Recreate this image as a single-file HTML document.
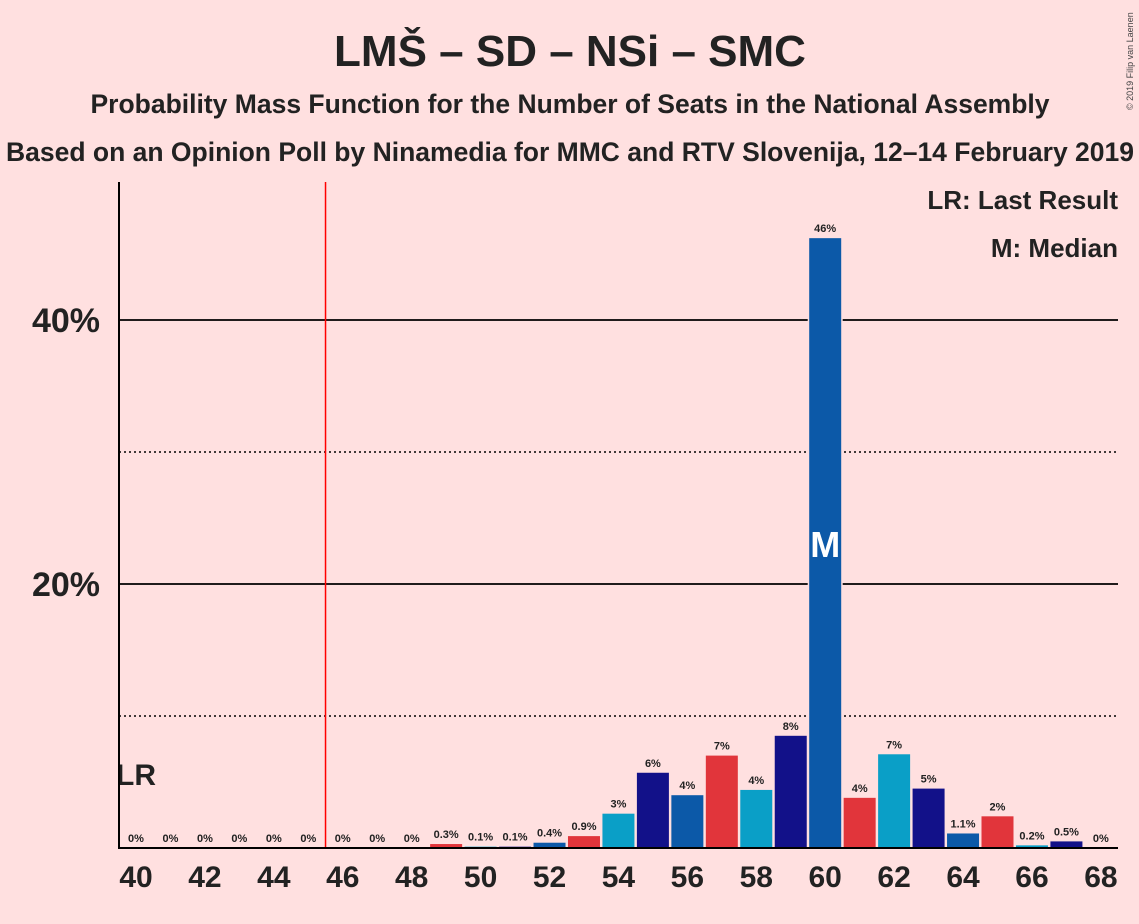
<!DOCTYPE html>
<html><head><meta charset="utf-8"><style>
body{margin:0;background:#ffe0e0;}
svg{display:block;font-family:"Liberation Sans",sans-serif;}
</style></head><body>
<svg id="chart" width="1139" height="924">
<rect width="1139" height="924" fill="#ffe0e0"/>
<text x="570" y="66" text-anchor="middle" font-size="44" font-weight="bold" fill="#222">LMŠ – SD – NSi – SMC</text>
<text x="570" y="113" text-anchor="middle" font-size="26.5" font-weight="bold" fill="#222">Probability Mass Function for the Number of Seats in the National Assembly</text>
<text x="570" y="161" text-anchor="middle" font-size="26.5" font-weight="bold" fill="#222">Based on an Opinion Poll by Ninamedia for MMC and RTV Slovenija, 12–14 February 2019</text>
<text x="1133" y="110" font-size="9" fill="#444" transform="rotate(-90 1133 110)">© 2019 Filip van Laenen</text>
<text x="1118" y="209" text-anchor="end" font-size="26" font-weight="bold" fill="#222">LR: Last Result</text>
<text x="1118" y="257" text-anchor="end" font-size="26" font-weight="bold" fill="#222">M: Median</text>
<g id="grid"></g>
<g id="bars"></g>
<g id="labels"></g>
<line x1="119" y1="182" x2="119" y2="849" stroke="#000" stroke-width="2"/>
<line x1="118" y1="848" x2="1118" y2="848" stroke="#000" stroke-width="2"/>
</svg>
<script>
const seats=[40,41,42,43,44,45,46,47,48,49,50,51,52,53,54,55,56,57,58,59,60,61,62,63,64,65,66,67,68];
const probs=[0,0,0,0,0,0,0,0,0,0.3,0.1,0.1,0.4,0.9,2.6,5.7,4.0,7.0,4.4,8.5,46.2,3.8,7.1,4.5,1.1,2.4,0.2,0.5,0];
const valueLabels=["0%","0%","0%","0%","0%","0%","0%","0%","0%","0.3%","0.1%","0.1%","0.4%","0.9%","3%","6%","4%","7%","4%","8%","46%","4%","7%","5%","1.1%","2%","0.2%","0.5%","0%"];
const yTicks=[20,40];
const yMinor=[10,30];
const xTickSeats=[40,42,44,46,48,50,52,54,56,58,60,62,64,66,68];
const lastResult=40;
const median=60;
const majority=45.5;
const ns="http://www.w3.org/2000/svg";
const X=s=>136+(s-40)*34.46;
const Y=p=>848-p*13.2;
const colors=["#0c59a8","#e1353b","#0a9fc7","#121189"];
function mk(tag,attrs,parent,text){const e=document.createElementNS(ns,tag);for(const k in attrs)e.setAttribute(k,attrs[k]);if(text!==undefined)e.textContent=text;parent.appendChild(e);return e;}
const grid=document.getElementById('grid'),bars=document.getElementById('bars'),labels=document.getElementById('labels');
yMinor.forEach(v=>{const l=mk('line',{x1:119,x2:1118,y1:Y(v),y2:Y(v),stroke:'#000','stroke-width':1.5,'stroke-dasharray':'2,3'},grid);

});
yTicks.forEach(v=>{const l=mk('line',{x1:119,x2:1118,y1:Y(v),y2:Y(v),stroke:'#000','stroke-width':1.8},grid);


const t=mk('text',{x:100,y:Y(v)+12,'text-anchor':'end','font-size':34,'font-weight':'bold',fill:'#222'},labels,v+'%');

});
const rl=mk('line',{x1:X(majority),x2:X(majority),y1:182,y2:848,stroke:'#f00','stroke-width':1.5},grid);


seats.forEach((s,i)=>{const p=probs[i];const h=p*13.2;
if(p>0){const r=mk('rect',{x:X(s)-16,y:Y(p),width:32,height:h,fill:colors[s%4]},bars);
if(s===median){r.setAttribute('stroke','#ffe0e0');r.setAttribute('stroke-width','3');r.setAttribute('paint-order','stroke');}

}
const t=mk('text',{x:X(s),y:Y(p)-6,'text-anchor':'middle','font-size':11,'font-weight':'bold',fill:'#222'},labels,valueLabels[i]);

});
const mi=seats.indexOf(median);
const m=mk('text',{x:X(median),y:Y(probs[mi]/2)+14,'text-anchor':'middle','font-size':36,'font-weight':'bold',fill:'#fff'},labels,'M');


const lr=mk('text',{x:X(lastResult),y:785,'text-anchor':'middle','font-size':30,'font-weight':'bold',fill:'#222'},labels,'LR');


xTickSeats.forEach(s=>{const t=mk('text',{x:X(s),y:887,'text-anchor':'middle','font-size':30,'font-weight':'bold',fill:'#222'},labels,s);

});
</script>
</body></html>
